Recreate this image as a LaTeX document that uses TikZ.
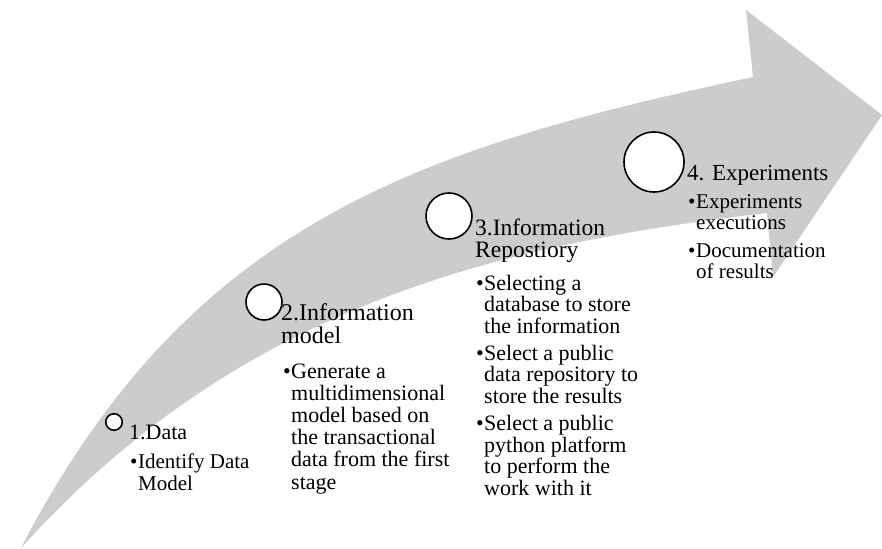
\documentclass[tikz,border=0pt]{standalone}
\usepackage{fontspec}
\setmainfont{Liberation Serif}
\definecolor{swoosh}{RGB}{204,204,204}
\newcommand{\bul}{\makebox[8pt][l]{\textbullet}}

\begin{document}
\begin{tikzpicture}[x=1pt, y=-1pt,
        stagedot/.style={circle, draw=black, line width=1.6pt, fill=white, inner sep=0pt},
        stagehead/.style={inner sep=0pt, anchor=base west},
        stageitems/.style={inner sep=0pt, anchor=base west}]
    \fill[white] (0,0) rectangle (882,548);
    % the big upward arrow
    \fill[swoosh] (21,548) .. controls (190,222) and (420,148) .. (753,77)
        -- (746,10) -- (882,115) -- (773,277) -- (767,213)
        .. controls (500,244) and (240,305) .. cycle;
    % stage 1
    \node[stagedot, minimum size=16.5pt] (dot1) at (114,422) {};
    \node[stagehead, font=\fontsize{22}{22}\selectfont] (head1) at (129,439)
        {\begin{tabular}[t]{@{}l@{}}1.Data\end{tabular}};
    \node[stageitems, font=\fontsize{21}{22}\selectfont] (items1) at (130,468)
        {\begin{tabular}[t]{@{}l@{}l@{}}\bul&Identify Data\\ &Model\end{tabular}};
    % stage 2
    \node[stagedot, minimum size=36pt] (dot2) at (264,302) {};
    \node[stagehead, font=\fontsize{24}{22}\selectfont] (head2) at (281,320)
        {\begin{tabular}[t]{@{}l@{}}2.Information\\model\end{tabular}};
    \node[stageitems, font=\fontsize{22}{22.2}\selectfont] (items2) at (283,378)
        {\begin{tabular}[t]{@{}l@{}l@{}}\bul&Generate a\\ &multidimensional\\ &model based on\\
            &the transactional\\ &data from the first\\ &stage\end{tabular}};
    % stage 3
    \node[stagedot, minimum size=46pt] (dot3) at (449,216) {};
    \node[stagehead, font=\fontsize{23.5}{22}\selectfont] (head3) at (475,235)
        {\begin{tabular}[t]{@{}l@{}}3.Information\\Repostiory\end{tabular}};
    \node[stageitems, font=\fontsize{22}{21.3}\selectfont] (items3) at (476,290)
        {\begin{tabular}[t]{@{}l@{}l@{}}\bul&Selecting a\\ &database to store\\ &the information\\[5pt]
            \bul&Select a public\\ &data repository to\\ &store the results\\[5pt]
            \bul&Select a public\\ &python platform\\ &to perform the\\ &work with it\end{tabular}};
    % stage 4
    \node[stagedot, minimum size=60pt] (dot4) at (654,162) {};
    \node[stagehead, font=\fontsize{23}{22}\selectfont] (head4) at (687,180)
        {\begin{tabular}[t]{@{}l@{}}4. Experiments\end{tabular}};
    \node[stageitems, font=\fontsize{21}{21.2}\selectfont] (items4) at (688,208)
        {\begin{tabular}[t]{@{}l@{}l@{}}\bul&Experiments\\ &executions\\[7pt]
            \bul&Documentation\\ &of results\end{tabular}};
\end{tikzpicture}
\end{document}
